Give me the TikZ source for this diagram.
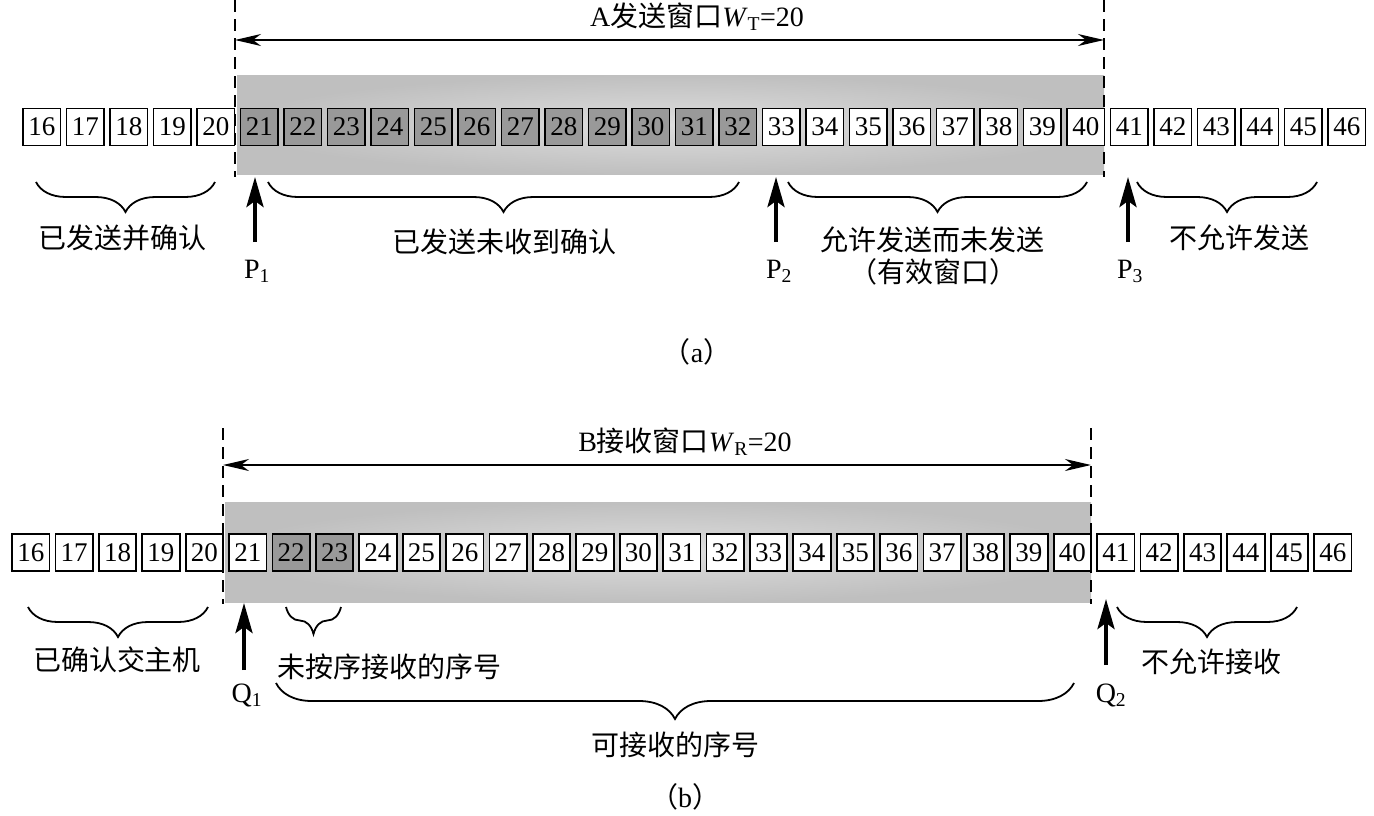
\documentclass[tikz,border=0pt]{standalone}
\usepackage{fontspec}
\setmainfont{Liberation Serif}
\newfontfamily\cjk{Noto Sans CJK SC}
\usetikzlibrary{arrows.meta,decorations.pathreplacing}
\definecolor{darkcell}{gray}{0.6}
\definecolor{winin}{gray}{0.87}
\definecolor{winout}{gray}{0.75}
\begin{document}
\begin{tikzpicture}[x=1pt,y=-1pt,
  cell/.style={draw=black, line width=1.8pt, minimum width=37.5pt, minimum height=37pt, inner sep=0pt, font=\fontsize{27}{27}\selectfont},
  win/.style={line width=1.8pt, dash pattern=on 12pt off 7pt},
  spanarr/.style={line width=1.4pt, {Stealth[length=26pt,width=12pt,inset=8pt]}-{Stealth[length=26pt,width=12pt,inset=8pt]}},
  ptr/.style={line width=4pt, -{Stealth[length=30pt,width=17pt,inset=6pt]}},
  brc/.style={decorate, decoration={brace, mirror, amplitude=#1}, line width=1.8pt},
  brc/.default=30pt,
  lbl/.style={font=\cjk\fontsize{28}{33}\selectfont, inner sep=0pt},
  ttl/.style={font=\fontsize{28}{32}\selectfont, inner sep=0pt},
  ptl/.style={font=\fontsize{28}{30}\selectfont, inner sep=0pt, anchor=base},
]
\useasboundingbox (0,0) rectangle (1374,815);

% ---------- (a) ----------
\shade[inner color=winin, outer color=winout] (237,75) rectangle (1104,174);
\coordinate (aLt) at (235,0);   \coordinate (aLb) at (235,177);
\coordinate (aRt) at (1104,0);  \coordinate (aRb) at (1104,177);
\draw[win] (aLt) -- (aLb);
\draw[win] (aRt) -- (aRb);
\coordinate (aWl) at (235,40); \coordinate (aWr) at (1104,40);
\draw[spanarr] (aWl) -- (aWr);
\node[ttl] (aT) at (697,17) {A{\cjk 发送窗口}\textit{W}\textsubscript{T}=20};

\foreach \i in {16,...,46}{
  \ifnum\i<21 \def\fc{white}\else\ifnum\i>32 \def\fc{white}\else\def\fc{darkcell}\fi\fi
  \node[cell, fill=\fc] (a\i) at ({41.75+(\i-16)*43.5},127) {\i};
}

\coordinate (ab1l) at (36,182);  \coordinate (ab1r) at (215,182);
\coordinate (ab2l) at (268,182); \coordinate (ab2r) at (739,182);
\coordinate (ab3l) at (788,182); \coordinate (ab3r) at (1087,182);
\coordinate (ab4l) at (1137,182);\coordinate (ab4r) at (1317,182);
\draw[brc] (ab1l) -- (ab1r);
\draw[brc] (ab2l) -- (ab2r);
\draw[brc] (ab3l) -- (ab3r);
\draw[brc] (ab4l) -- (ab4r);

\node[lbl] (aL1) at (122,238) {已发送并确认};
\node[lbl] (aL2) at (504,242) {已发送未收到确认};
\node[lbl] (aL3) at (932,240) {允许发送而未发送};
\node[lbl] (aL3b) at (933,272) {（有效窗口）};
\node[lbl] (aL4) at (1239,238) {不允许发送};

\coordinate (p1s) at (255,242); \coordinate (p1t) at (255,177);
\coordinate (p2s) at (776,242); \coordinate (p2t) at (776,177);
\coordinate (p3s) at (1128,242); \coordinate (p3t) at (1128,177);
\draw[ptr] (p1s) -- (p1t);
\draw[ptr] (p2s) -- (p2t);
\draw[ptr] (p3s) -- (p3t);
\node[ptl] (P1) at (257,278) {P\textsubscript{1}};
\node[ptl] (P2) at (779,278) {P\textsubscript{2}};
\node[ptl] (P3) at (1130,278) {P\textsubscript{3}};

\node[ttl] (capA) at (697,352) {{\cjk （}a{\cjk ）}};

% ---------- (b) ----------
\shade[inner color=winin, outer color=winout] (225,502) rectangle (1091,602);
\coordinate (bLt) at (223,428);  \coordinate (bLb) at (223,604);
\coordinate (bRt) at (1091,428); \coordinate (bRb) at (1091,604);
\draw[win] (bLt) -- (bLb);
\draw[win] (bRt) -- (bRb);
\coordinate (bWl) at (223,465); \coordinate (bWr) at (1091,465);
\draw[spanarr] (bWl) -- (bWr);
\node[ttl] (bT) at (685,442) {B{\cjk 接收窗口}\textit{W}\textsubscript{R}=20};

\foreach \i in {16,...,46}{
  \ifnum\i<22 \def\fc{white}\else\ifnum\i>23 \def\fc{white}\else\def\fc{darkcell}\fi\fi
  \node[cell, fill=\fc] (b\i) at ({30.75+(\i-16)*43.4},552.5) {\i};
}

\coordinate (bb1l) at (28,607);  \coordinate (bb1r) at (208,607);
\coordinate (bb2l) at (286,607); \coordinate (bb2r) at (341,607);
\coordinate (bb3l) at (276,683); \coordinate (bb3r) at (1074,683);
\coordinate (bb4l) at (1117,607);\coordinate (bb4r) at (1297,607);
\draw[brc] (bb1l) -- (bb1r);
\draw[brc=27pt] (bb2l) -- (bb2r);
\draw[brc=36pt] (bb3l) -- (bb3r);
\draw[brc] (bb4l) -- (bb4r);

\node[lbl] (bL1) at (117,660) {已确认交主机};
\node[lbl] (bL2) at (389,667) {未按序接收的序号};
\node[lbl] (bL3) at (1211,662) {不允许接收};
\node[lbl] (bL4) at (675,745) {可接收的序号};

\coordinate (q1s) at (244,670); \coordinate (q1t) at (244,603);
\coordinate (q2s) at (1106,665); \coordinate (q2t) at (1106,599);
\draw[ptr] (q1s) -- (q1t);
\draw[ptr] (q2s) -- (q2t);
\node[ptl] (Q1) at (247,702) {Q\textsubscript{1}};
\node[ptl] (Q2) at (1111,702) {Q\textsubscript{2}};

\node[ttl] (capB) at (685,797) {{\cjk （}b{\cjk ）}};
\end{tikzpicture}
\end{document}
